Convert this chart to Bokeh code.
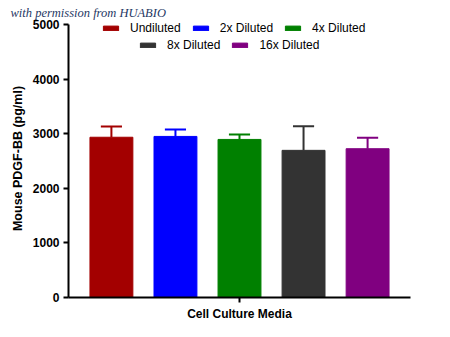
from bokeh.plotting import figure
from bokeh.models import (ColumnDataSource, Range1d, FixedTicker, Legend, LegendItem)
from bokeh.embed import file_html
from bokeh.resources import INLINE

# ---- data ----
groups = ["Undiluted", "2x Diluted", "4x Diluted", "8x Diluted", "16x Diluted"]
means = [2935, 2950, 2895, 2695, 2725]
errors = [195, 125, 90, 440, 200]
colors = ["#A30000", "#0000FF", "#008000", "#333333", "#800080"]
y_ticks = [0, 1000, 2000, 3000, 4000, 5000]
y_max = 5000
x_label = "Cell Culture Media"
y_label = "Mouse PDGF-BB (pg/ml)"
watermark = "with permission from HUABIO"

xs = [i + 1 for i in range(len(groups))]
bar_w = 0.67
cap_half = 0.165
upper = [m + e for m, e in zip(means, errors)]

src = ColumnDataSource(dict(x=xs, top=means, upper=upper, color=colors, name=groups,
                            cl=[x - cap_half for x in xs], cr=[x + cap_half for x in xs]))

# frame starts 19px from top; the y axis line stops at y_max (24px from top)
top_border = 19
frame_h = 297 - top_border
axis_h = 273
p = figure(width=450, height=337, output_backend="svg", toolbar_location=None,
           x_range=Range1d(0.33, 5.67), y_range=Range1d(0, y_max * frame_h / axis_h),
           min_border_left=68, min_border_right=40, min_border_top=top_border,
           min_border_bottom=40)
p.outline_line_color = None
p.grid.grid_line_color = None
p.background_fill_color = "white"
p.border_fill_color = "white"

p.title.text = watermark
p.title.text_font = "Liberation Serif"
p.title.text_font_style = "italic"
p.title.text_font_size = "12.5px"
p.title.text_color = "#1F3864"
p.title.align = "left"
p.title.offset = -58
p.title.standoff = 0

bars = p.vbar(x="x", top="top", width=bar_w, bottom=0, fill_color="color",
              line_color="color", source=src)
p.segment(x0="x", y0="top", x1="x", y1="upper", line_color="color", line_width=2, source=src)
p.segment(x0="cl", y0="upper", x1="cr", y1="upper", line_color="color", line_width=2, source=src)

# axes
for ax in (p.xaxis[0], p.yaxis[0]):
    ax.axis_line_width = 2
    ax.axis_line_color = "black"
    ax.major_tick_line_width = 2
    ax.major_tick_line_color = "black"
    ax.major_tick_out = 5
    ax.major_tick_in = 0
    ax.minor_tick_line_color = None
    ax.axis_label_text_font = "Liberation Sans"
    ax.axis_label_text_font_style = "bold"
    ax.axis_label_text_color = "black"
    ax.major_label_text_font = "Liberation Sans"
    ax.major_label_text_font_style = "bold"
    ax.major_label_text_color = "black"

p.yaxis.ticker = FixedTicker(ticks=y_ticks)
p.yaxis.bounds = (0, y_max)
p.yaxis.major_label_text_font_size = "12px"
p.yaxis.major_label_standoff = 4
p.yaxis.axis_label = y_label
p.yaxis.axis_label_text_font_size = "12.5px"
p.yaxis.axis_label_standoff = 5

p.xaxis.ticker = FixedTicker(ticks=[3])
p.xaxis.major_label_overrides = {3: ""}
p.xaxis.major_label_text_font_size = "0px"
p.xaxis.axis_label = x_label
p.xaxis.axis_label_text_font_size = "12px"
p.xaxis.axis_label_standoff = 4

def make_legend(idx, loc):
    items = [LegendItem(label=groups[i], renderers=[bars], index=i) for i in idx]
    lg = Legend(items=items, orientation="horizontal", location=loc,
                glyph_width=19, glyph_height=6, label_standoff=10, spacing=10,
                padding=0, margin=0, border_line_color=None, background_fill_alpha=0,
                label_text_font="Liberation Sans", label_text_font_size="12px",
                label_text_color="black", label_height=12)
    return lg

p.add_layout(make_legend([0, 1, 2], (33, 262)), "center")
p.add_layout(make_legend([3, 4], (70, 245)), "center")

open("out.html", "w").write(file_html(p, INLINE))
